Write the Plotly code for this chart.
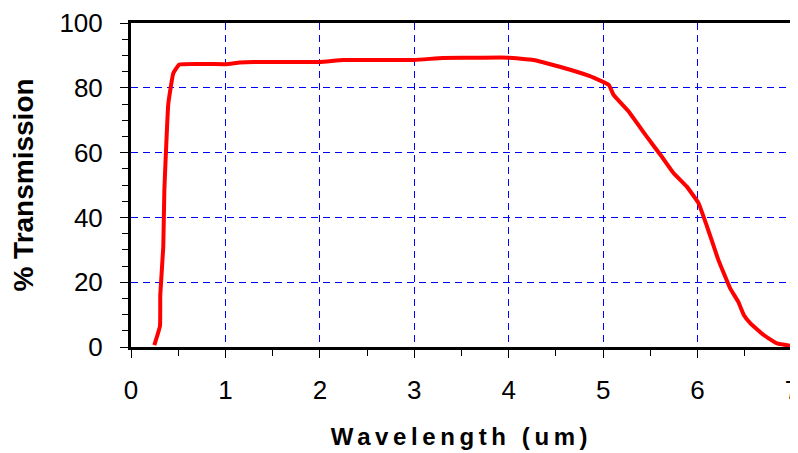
import plotly.graph_objects as go

wavelength = [0.247, 0.307, 0.31, 0.342, 0.353, 0.395, 0.448, 0.512, 1.0, 1.15, 1.3, 2.0,
              2.25, 3.0, 3.3, 3.7, 4.0, 4.26, 4.54, 4.86, 5.06, 5.11, 5.27, 5.46, 5.62,
              5.745, 5.886, 6.01, 6.1, 6.22, 6.345, 6.43, 6.49, 6.56, 6.70, 6.84, 7.0]
transmission = [0.6, 6.5, 16.0, 31.0, 48.0, 75.0, 84.5, 87.2, 87.3, 87.8, 88.0, 88.0,
                88.6, 88.6, 89.2, 89.3, 89.3, 88.6, 86.5, 83.6, 80.9, 77.8, 72.7, 65.0, 58.8,
                53.7, 49.5, 44.4, 37.2, 26.9, 18.1, 14.0, 9.9, 7.3, 3.7, 1.1, 0.3]

x_ticks = [0, 1, 2, 3, 4, 5, 6, 7]
y_ticks = [0, 20, 40, 60, 80, 100]

fig = go.Figure()
fig.add_trace(go.Scatter(x=wavelength, y=transmission, mode="lines",
                         line=dict(color="#FF0000", width=4, shape="spline", smoothing=0.3),
                         showlegend=False))

font = "Liberation Sans, Arial, sans-serif"
# page body has an 8px margin, so the figure is sized/offset to compensate
fig.update_layout(
    width=790, height=445,
    margin=dict(l=123, r=6, t=15, b=106),
    paper_bgcolor="white", plot_bgcolor="white",
    font=dict(family=font, color="black", size=26),
)
fig.update_xaxes(
    range=[0, 7], tickvals=x_ticks, ticktext=[str(v) for v in x_ticks],
    showline=True, linecolor="black", linewidth=3, mirror=True,
    ticks="outside", ticklen=8, tickwidth=1, tickcolor="black",
    minor=dict(dtick=0.5, ticks="outside", ticklen=6, tickcolor="black", showgrid=False),
    showgrid=True, gridcolor="#0000FF", griddash="7px,5px", gridwidth=1,
    zeroline=False, tickfont=dict(size=26, family=font), ticklabelstandoff=10,
    ticklabeloverflow="allow", automargin=False,
    title=dict(text='<span style="letter-spacing:4.6px"><b>Wavelength (um)</b></span>',
               font=dict(size=24, family=font), standoff=24),
)
fig.update_yaxes(
    range=[0, 100], tickvals=y_ticks, ticktext=[str(v) for v in y_ticks],
    showline=True, linecolor="black", linewidth=3, mirror=True,
    ticks="outside", ticklen=8, tickwidth=1, tickcolor="black",
    minor=dict(dtick=5, ticks="outside", ticklen=6, tickcolor="black", showgrid=False),
    showgrid=True, gridcolor="#0000FF", griddash="7px,5px", gridwidth=1,
    zeroline=False, tickfont=dict(size=26, family=font), ticklabelstandoff=12,
    ticklabeloverflow="allow", automargin=False,
    title=dict(text="<b>% Transmission</b>", font=dict(size=28, family=font), standoff=22),
)
fig.write_html("out.html")
